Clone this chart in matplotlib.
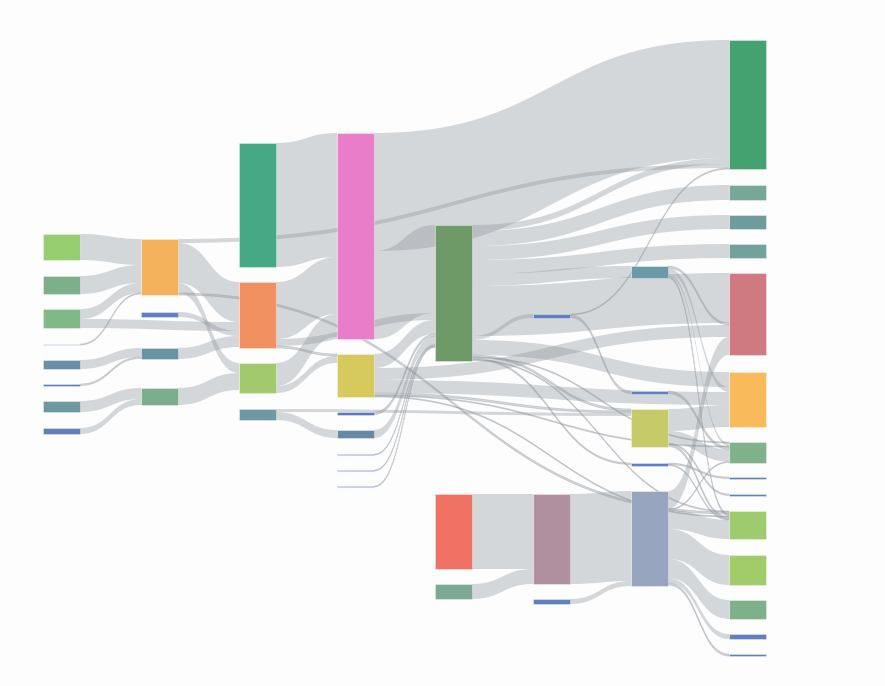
import matplotlib
matplotlib.use("Agg")
import matplotlib.pyplot as plt
from matplotlib.path import Path
from matplotlib.patches import PathPatch, Rectangle

# ---------------- data ----------------
node_names = [
    "A0", "A1", "A2", "A3", "A4", "A5", "A6", "A7",
    "B0", "B1", "B2", "B3",
    "C0", "C1", "C2", "C3",
    "D0", "D1", "D2", "D3", "D4", "D5", "D6",
    "E0", "E1", "E2",
    "F0", "F1", "F2",
    "G0", "G1", "G2", "G3", "G4",
    "H0", "H1", "H2", "H3", "H4", "H5", "H6", "H7", "H8", "H9", "H10", "H11", "H12", "H13",
]
node_column = [0] * 8 + [1] * 4 + [2] * 4 + [3] * 7 + [4] * 3 + [5] * 3 + [6] * 5 + [7] * 14
node_colors = [
    "#97ce70", "#7db08a", "#80b886", "#a9c0e6", "#6a8fa8", "#5a7cc0", "#6c9aa0", "#5f80b8",
    "#f5b25c", "#5f7fbe", "#6893a3", "#7dae8c",
    "#47a886", "#f19161", "#a3c96e", "#6e98a4",
    "#e97dc9", "#d6ca5f", "#5a78c4", "#6789a9", "#5a78c4", "#5a78c4", "#5a78c4",
    "#6e9a68", "#f07264", "#7baa94",
    "#5f80c0", "#b08f9e", "#5f80bc",
    "#6a9aa6", "#5f7fc4", "#c6ca68", "#5f7fc4", "#97a6be",
    "#44a270", "#76a797", "#6e9c9c", "#73a29a", "#cf7a80", "#f8ba5a", "#7fb28a",
    "#5f80c4", "#5f80c4", "#9dcb6e", "#a2cb6a", "#7eb08a", "#5f80bc", "#5f80c4",
]

links = [
    ("A0", "B0", 26), ("A1", "B0", 18), ("A2", "B0", 10), ("A2", "C1", 9),
    ("A3", "B0", 1), ("A4", "B2", 9), ("A5", "B2", 1.5), ("A6", "B3", 11), ("A7", "B3", 6),
    ("B0", "H0", 4), ("B0", "C1", 40), ("B0", "C2", 10), ("B0", "H9", 2),
    ("B1", "C1", 5), ("B2", "C1", 11), ("B3", "C2", 17),
    ("C0", "D0", 124), ("C1", "D0", 57), ("C1", "E0", 7), ("C1", "D1", 2),
    ("C2", "D0", 23), ("C2", "D1", 7), ("C3", "D3", 8), ("C3", "G2", 3),
    ("D0", "H0", 118), ("D0", "E0", 88),
    ("D1", "E0", 14), ("D1", "H4", 12), ("D1", "H5", 13), ("D1", "G2", 2), ("D1", "H6", 1), ("D1", "H9", 1),
    ("D2", "E0", 2.5), ("D3", "E0", 8), ("D4", "E0", 1), ("D5", "E0", 1), ("D6", "E0", 1),
    ("E0", "H0", 6), ("E0", "H1", 15), ("E0", "H2", 14), ("E0", "H3", 14), ("E0", "G0", 12),
    ("E0", "H4", 50), ("E0", "F0", 4), ("E0", "H5", 15), ("E0", "G2", 2), ("E0", "H6", 1),
    ("E0", "G3", 1.5), ("E0", "H9", 1),
    ("E1", "F1", 75), ("E2", "F1", 15),
    ("F0", "G1", 2.5), ("F0", "H0", 1), ("F1", "G4", 90), ("F2", "G4", 5),
    ("G0", "H4", 2), ("G0", "H5", 5), ("G0", "H6", 3), ("G0", "H9", 2),
    ("G1", "H6", 2.5),
    ("G2", "H5", 22), ("G2", "H6", 12), ("G2", "H9", 2), ("G2", "H8", 1.5),
    ("G3", "H7", 1.5), ("G3", "H9", 1),
    ("G4", "H4", 18), ("G4", "H6", 1), ("G4", "H9", 19), ("G4", "H10", 30),
    ("G4", "H11", 19), ("G4", "H12", 5), ("G4", "H13", 2),
]
link_source = [l[0] for l in links]
link_target = [l[1] for l in links]
link_value = [l[2] for l in links]

# ---------------- layout (like plotly node.x / node.y arrangement) ----------------
node_top = [
    234, 276, 309, 344, 360, 384, 401, 428,
    239, 312, 348, 388,
    143, 282, 363, 409,
    133, 354, 412, 430, 454, 470, 486,
    225, 494, 584,
    314, 494, 599,
    266, 391, 409, 463, 491,
    40, 185, 215, 244, 273, 372, 442, 477, 494, 511, 555, 600, 634, 654,
]
col_x0, col_step, node_w = 43, 98, 37
px_per_unit = 1.0
W, H = 885, 686

idx = {n: i for i, n in enumerate(node_names)}
n_nodes = len(node_names)
inflow = [0.0] * n_nodes
outflow = [0.0] * n_nodes
for s, t, v in zip(link_source, link_target, link_value):
    outflow[idx[s]] += v
    inflow[idx[t]] += v
node_val = [max(a, b) for a, b in zip(inflow, outflow)]
node_h = [v * px_per_unit for v in node_val]
node_x = [col_x0 + c * col_step for c in node_column]

# link ordering at each node (d3-sankey style)
L = len(link_value)
out_links = {i: [] for i in range(n_nodes)}
in_links = {i: [] for i in range(n_nodes)}
for k in range(L):
    out_links[idx[link_source[k]]].append(k)
    in_links[idx[link_target[k]]].append(k)
sy = [0.0] * L
ty = [0.0] * L
for i in range(n_nodes):
    y = node_top[i]
    for k in sorted(out_links[i], key=lambda k: (node_top[idx[link_target[k]]], k)):
        sy[k] = y
        y += link_value[k] * px_per_unit
    y = node_top[i]
    for k in sorted(in_links[i], key=lambda k: (node_top[idx[link_source[k]]], k)):
        ty[k] = y
        y += link_value[k] * px_per_unit

fig = plt.figure(figsize=(W / 100, H / 100), dpi=100)
fig.patch.set_facecolor("#fdfdfd")
ax = fig.add_axes([0, 0, 1, 1])
ax.set_xlim(0, W)
ax.set_ylim(H, 0)
ax.axis("off")

link_rgb = (140 / 255, 148 / 255, 156 / 255)
for k in range(L):
    s, t = idx[link_source[k]], idx[link_target[k]]
    x0 = node_x[s] + node_w
    x1 = node_x[t]
    xm = (x0 + x1) / 2
    w = link_value[k] * px_per_unit
    y0a, y1a = sy[k], ty[k]
    y0b, y1b = y0a + w, y1a + w
    verts = [(x0, y0a), (xm, y0a), (xm, y1a), (x1, y1a),
             (x1, y1b), (xm, y1b), (xm, y0b), (x0, y0b), (x0, y0a)]
    codes = [Path.MOVETO, Path.CURVE4, Path.CURVE4, Path.CURVE4,
             Path.LINETO, Path.CURVE4, Path.CURVE4, Path.CURVE4, Path.CLOSEPOLY]
    lw = 0.6 if w < 3 else 0.0
    ax.add_patch(PathPatch(Path(verts, codes), facecolor=link_rgb, alpha=0.36,
                           edgecolor=link_rgb if lw else "none", linewidth=lw, zorder=1))

for i in range(n_nodes):
    h = max(node_h[i], 1.0)
    ax.add_patch(Rectangle((node_x[i], node_top[i]), node_w, h,
                           facecolor=node_colors[i], edgecolor=(1, 1, 1, 0.5),
                           linewidth=0.5, zorder=3))

fig.savefig("out.png", dpi=100, facecolor=fig.get_facecolor())
